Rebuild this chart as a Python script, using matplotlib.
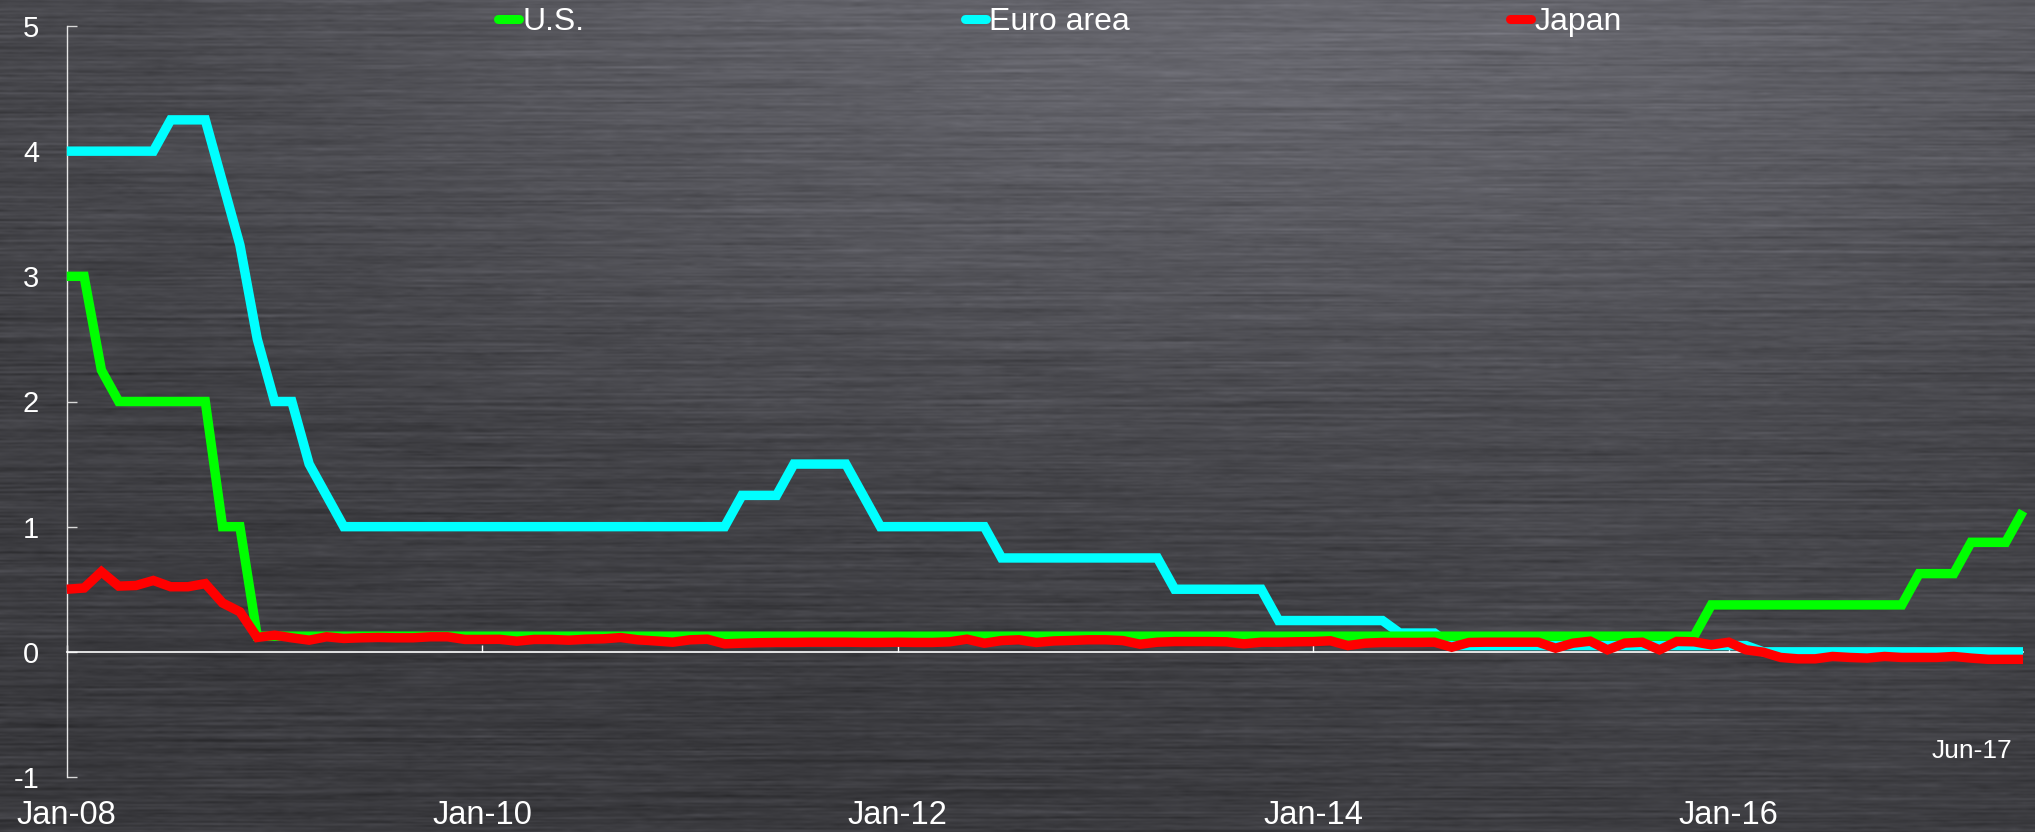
import numpy as np
import matplotlib
matplotlib.use("Agg")
import matplotlib.pyplot as plt
from matplotlib.lines import Line2D

plt.rcParams["font.family"] = ["Liberation Sans", "DejaVu Sans"]

# Monthly policy rates, Jan-2008 .. Jun-2017 (one row per year)
us_rate = [
    3.0, 3.0, 2.25, 2.0, 2.0, 2.0, 2.0, 2.0, 2.0, 1.0, 1.0, 0.125,
    0.125, 0.125, 0.125, 0.125, 0.125, 0.125, 0.125, 0.125, 0.125, 0.125, 0.125, 0.125,
    0.125, 0.125, 0.125, 0.125, 0.125, 0.125, 0.125, 0.125, 0.125, 0.125, 0.125, 0.125,
    0.125, 0.125, 0.125, 0.125, 0.125, 0.125, 0.125, 0.125, 0.125, 0.125, 0.125, 0.125,
    0.125, 0.125, 0.125, 0.125, 0.125, 0.125, 0.125, 0.125, 0.125, 0.125, 0.125, 0.125,
    0.125, 0.125, 0.125, 0.125, 0.125, 0.125, 0.125, 0.125, 0.125, 0.125, 0.125, 0.125,
    0.125, 0.125, 0.125, 0.125, 0.125, 0.125, 0.125, 0.125, 0.125, 0.125, 0.125, 0.125,
    0.125, 0.125, 0.125, 0.125, 0.125, 0.125, 0.125, 0.125, 0.125, 0.125, 0.125, 0.375,
    0.375, 0.375, 0.375, 0.375, 0.375, 0.375, 0.375, 0.375, 0.375, 0.375, 0.375, 0.625,
    0.625, 0.625, 0.875, 0.875, 0.875, 1.125,
]

euro_rate = [
    4.0, 4.0, 4.0, 4.0, 4.0, 4.0, 4.25, 4.25, 4.25, 3.75, 3.25, 2.5,
    2.0, 2.0, 1.5, 1.25, 1.0, 1.0, 1.0, 1.0, 1.0, 1.0, 1.0, 1.0,
    1.0, 1.0, 1.0, 1.0, 1.0, 1.0, 1.0, 1.0, 1.0, 1.0, 1.0, 1.0,
    1.0, 1.0, 1.0, 1.25, 1.25, 1.25, 1.5, 1.5, 1.5, 1.5, 1.25, 1.0,
    1.0, 1.0, 1.0, 1.0, 1.0, 1.0, 0.75, 0.75, 0.75, 0.75, 0.75, 0.75,
    0.75, 0.75, 0.75, 0.75, 0.5, 0.5, 0.5, 0.5, 0.5, 0.5, 0.25, 0.25,
    0.25, 0.25, 0.25, 0.25, 0.25, 0.15, 0.15, 0.15, 0.05, 0.05, 0.05, 0.05,
    0.05, 0.05, 0.05, 0.05, 0.05, 0.05, 0.05, 0.05, 0.05, 0.05, 0.05, 0.05,
    0.05, 0.05, 0.0, 0.0, 0.0, 0.0, 0.0, 0.0, 0.0, 0.0, 0.0, 0.0,
    0.0, 0.0, 0.0, 0.0, 0.0, 0.0,
]

japan_rate = [
    0.50, 0.51, 0.64, 0.525, 0.53, 0.57, 0.52, 0.52, 0.545, 0.39, 0.32, 0.115,
    0.133, 0.112, 0.093, 0.12, 0.107, 0.112, 0.115, 0.112, 0.112, 0.12, 0.12, 0.099,
    0.099, 0.10, 0.085, 0.099, 0.099, 0.093, 0.101, 0.104, 0.114, 0.096, 0.087, 0.077,
    0.096, 0.101, 0.064, 0.069, 0.073, 0.075, 0.075, 0.077, 0.077, 0.077, 0.075, 0.075,
    0.077, 0.075, 0.075, 0.080, 0.101, 0.069, 0.090, 0.096, 0.075, 0.087, 0.091, 0.096,
    0.096, 0.090, 0.061, 0.077, 0.082, 0.082, 0.082, 0.080, 0.064, 0.077, 0.077, 0.080,
    0.082, 0.088, 0.050, 0.069, 0.075, 0.075, 0.075, 0.077, 0.037, 0.075, 0.077, 0.077,
    0.077, 0.077, 0.029, 0.069, 0.085, 0.016, 0.070, 0.077, 0.016, 0.083, 0.080, 0.056,
    0.077, 0.016, -0.003, -0.045, -0.056, -0.056, -0.037, -0.045, -0.050, -0.037, -0.045, -0.045,
    -0.045, -0.037, -0.050, -0.060, -0.060, -0.060,
]

series_names = ["U.S.", "Euro area", "Japan"]
series_colors = ["#00ff00", "#00ffff", "#ff0000"]

tick_labels = ["Jan-08", "Jan-10", "Jan-12", "Jan-14", "Jan-16"]
tick_months = [0, 24, 48, 72, 96]
end_label = "Jun-17"
y_ticks = [-1, 0, 1, 2, 3, 4, 5]

months = np.arange(len(us_rate))

W, H = 2035, 832
fig = plt.figure(figsize=(W / 100, H / 100), dpi=100)

# brushed-metal backdrop: soft top highlight plus horizontal grain
yy, xx = np.mgrid[0:1:H * 1j, 0:1:W * 1j]
base = (0.225
        + 0.18 * np.exp(-((xx - 0.65) ** 2 / 0.35 + (yy + 0.05) ** 2 / 0.30))
        + 0.025 * np.exp(-((xx - 0.85) ** 2 / 0.05 + (yy - 0.8) ** 2 / 0.08)))
rng = np.random.default_rng(11)
streak = np.zeros((H, W))
for seg, amp in [(260, 0.022), (55, 0.020), (10, 0.011)]:
    n = W // seg + 2
    coarse = rng.normal(size=(H, n))
    pos = np.linspace(0, n - 1.001, W)
    i0 = np.floor(pos).astype(int)
    f = pos - i0
    streak += amp * (coarse[:, i0] * (1 - f) + coarse[:, i0 + 1] * f)
streak = 0.5 * streak + 0.25 * np.roll(streak, 1, axis=0) + 0.25 * np.roll(streak, -1, axis=0)
lum = base + streak
tex = np.clip(np.dstack([lum * 1.0, lum * 1.0, lum * 1.07]), 0, 1)

bg = fig.add_axes([0, 0, 1, 1], zorder=-5)
bg.imshow(tex, aspect="auto", interpolation="bilinear")
bg.axis("off")

x0_px, x1_px = 66.8, 2023.0
ytop_px, ybot_px = 26.0, 777.0
ax = fig.add_axes([x0_px / W, (H - ybot_px) / H,
                   (x1_px - x0_px) / W, (ybot_px - ytop_px) / H])
ax.set_facecolor("none")
ax.set_xlim(0, len(us_rate) - 1)
ax.set_ylim(-1, 5)

for sp in ("top", "right"):
    ax.spines[sp].set_visible(False)
ax.spines["left"].set_color("#e6e6e6")
ax.spines["left"].set_linewidth(1.0)
ax.spines["bottom"].set_position(("data", 0))
ax.spines["bottom"].set_color("white")
ax.spines["bottom"].set_linewidth(1.2)

ax.set_yticks(y_ticks)
ax.set_yticklabels([str(v) for v in y_ticks])
ax.tick_params(axis="y", direction="in", length=7, width=1, color="#d8d8d8",
               labelcolor="white", labelsize=21, pad=20)
ax.set_xticks(tick_months)
ax.set_xticklabels(tick_labels)
ax.tick_params(axis="x", direction="in", length=5, width=1, color="white",
               labelcolor="white", labelsize=23.5, pad=107)

lw = 6.8
ax.plot(months, euro_rate, color=series_colors[1], lw=lw, solid_capstyle="butt",
        solid_joinstyle="miter", clip_on=False, zorder=3)
ax.plot(months, us_rate, color=series_colors[0], lw=lw, solid_capstyle="butt",
        solid_joinstyle="miter", clip_on=False, zorder=4)
ax.plot(months, japan_rate, color=series_colors[2], lw=lw, solid_capstyle="butt",
        solid_joinstyle="miter", clip_on=False, zorder=5)

ax.text(112.4, -0.85, end_label, ha="right", va="baseline", color="white", fontsize=19)

handles = [Line2D([], [], color=c, lw=6.5, solid_capstyle="round") for c in series_colors]
fig.legend(handles, series_names, loc="center left",
           bbox_to_anchor=(498 / W, 1 - 22 / H), ncol=3, frameon=False,
           handlelength=0.65, handletextpad=0.12, columnspacing=11.9,
           borderpad=0, borderaxespad=0, fontsize=23, labelcolor="white")

fig.savefig("out.png", dpi=100)
